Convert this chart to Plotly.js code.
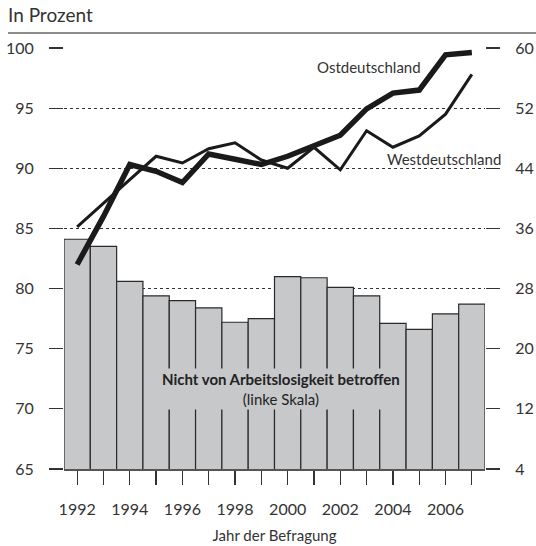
<!DOCTYPE html>
<html>
<head>
<meta charset="utf-8">
<script src="https://cdn.plot.ly/plotly-3.0.1.min.js"></script>
<style>html,body{margin:0;padding:0;background:#fff;}#chart{width:536px;height:546px;}</style>
</head>
<body>
<div id="chart"></div>
<script>
// Data
const years = [1992,1993,1994,1995,1996,1997,1998,1999,2000,2001,2002,2003,2004,2005,2006,2007];
const notAffected = [84.1,83.5,80.6,79.4,79.0,78.4,77.2,77.5,81.0,80.9,80.1,79.4,77.1,76.6,77.9,78.7];
const ost = [31.2,37.6,44.5,43.6,42.1,45.9,45.2,44.5,45.6,47.0,48.4,51.9,54.0,54.4,59.1,59.4];
const west = [36.2,39.4,42.5,45.6,44.7,46.6,47.4,45.1,44.0,46.8,43.8,49.0,46.8,48.3,51.2,56.5];
const tickLabels = years.map(y => (y % 2 === 0 ? String(y) : ''));
const leftTicks = [65,70,75,80,85,90,95,100];
const rightTicks = [4,12,20,28,36,44,52,60];

const FONT = 'Lato, "Open Sans", sans-serif';
const TXT = '#333';

const traces = [
  {
    type: 'bar', x: years, y: notAffected, width: 1,
    marker: {color: '#c7c8ca', line: {color: '#2a2a2a', width: 1.2}},
    hoverinfo: 'skip', showlegend: false
  },
  {
    type: 'scatter', mode: 'lines', x: years, y: west, yaxis: 'y2',
    line: {color: '#1a1a1a', width: 3}, showlegend: false
  },
  {
    type: 'scatter', mode: 'lines', x: years, y: ost, yaxis: 'y2',
    line: {color: '#1a1a1a', width: 5.5}, showlegend: false
  }
];

const layout = {
  width: 536, height: 546,
  margin: {l: 64, r: 51, t: 48, b: 77, pad: 0},
  paper_bgcolor: '#fff', plot_bgcolor: 'rgba(0,0,0,0)',
  font: {family: FONT, size: 16, color: TXT},
  showlegend: false,
  bargap: 0,
  title: {
    text: 'In Prozent', x: 8/536, xanchor: 'left', xref: 'container',
    y: 1 - 15/546, yanchor: 'middle', yref: 'container',
    font: {family: FONT, size: 19, color: TXT}
  },
  xaxis: {
    range: [1991.5, 2007.5], tickmode: 'array', tickvals: years, ticktext: tickLabels,
    ticks: 'outside', ticklen: 14, tickcolor: '#333', tickwidth: 1.2,
    ticklabelstandoff: 11,
    showline: true, linecolor: '#555', linewidth: 1.5, showgrid: false, zeroline: false,
    tickfont: {family: FONT, size: 16, color: TXT},
    title: {text: 'Jahr der Befragung', standoff: 14, font: {family: FONT, size: 15, color: TXT}}
  },
  yaxis: {
    range: [65, 100], tickmode: 'array', tickvals: leftTicks,
    ticks: 'outside', ticklen: 14, tickcolor: '#333', tickwidth: 1.2,
    ticklabelstandoff: 12,
    showgrid: true, gridcolor: '#333', gridwidth: 1, griddash: 'dot',
    showline: false, zeroline: false,
    tickfont: {family: FONT, size: 16, color: TXT}
  },
  yaxis2: {
    overlaying: 'y', side: 'right', range: [4, 60], tickmode: 'array', tickvals: rightTicks,
    ticks: 'outside', ticklen: 14, tickcolor: '#333', tickwidth: 1.2,
    ticklabelstandoff: 12,
    showgrid: false, showline: false, zeroline: false,
    tickfont: {family: FONT, size: 16, color: TXT}
  },
  shapes: [
    {type: 'line', xref: 'paper', yref: 'paper',
     x0: (8-64)/421, x1: (536-64)/421, y0: (469-33)/421, y1: (469-33)/421,
     line: {color: '#666', width: 1.5}}
  ],
  annotations: [
    {x: 2003.1, y: 98.4, xref: 'x', yref: 'y', text: 'Ostdeutschland', showarrow: false,
     font: {family: FONT, size: 15, color: TXT}},
    {x: 2005.95, y: 90.75, xref: 'x', yref: 'y', text: 'Westdeutschland', showarrow: false,
     font: {family: FONT, size: 15, color: TXT}},
    {x: 1999.75, y: 71.67, xref: 'x', yref: 'y',
     text: '<b>Nicht von Arbeitslosigkeit betroffen</b><br>(linke Skala)', showarrow: false,
     bgcolor: '#c7c8ca', borderpad: 1, align: 'center',
     font: {family: FONT, size: 15, color: '#222'}}
  ]
};

Plotly.newPlot('chart', traces, layout, {staticPlot: true, displayModeBar: false});
</script>
</body>
</html>
